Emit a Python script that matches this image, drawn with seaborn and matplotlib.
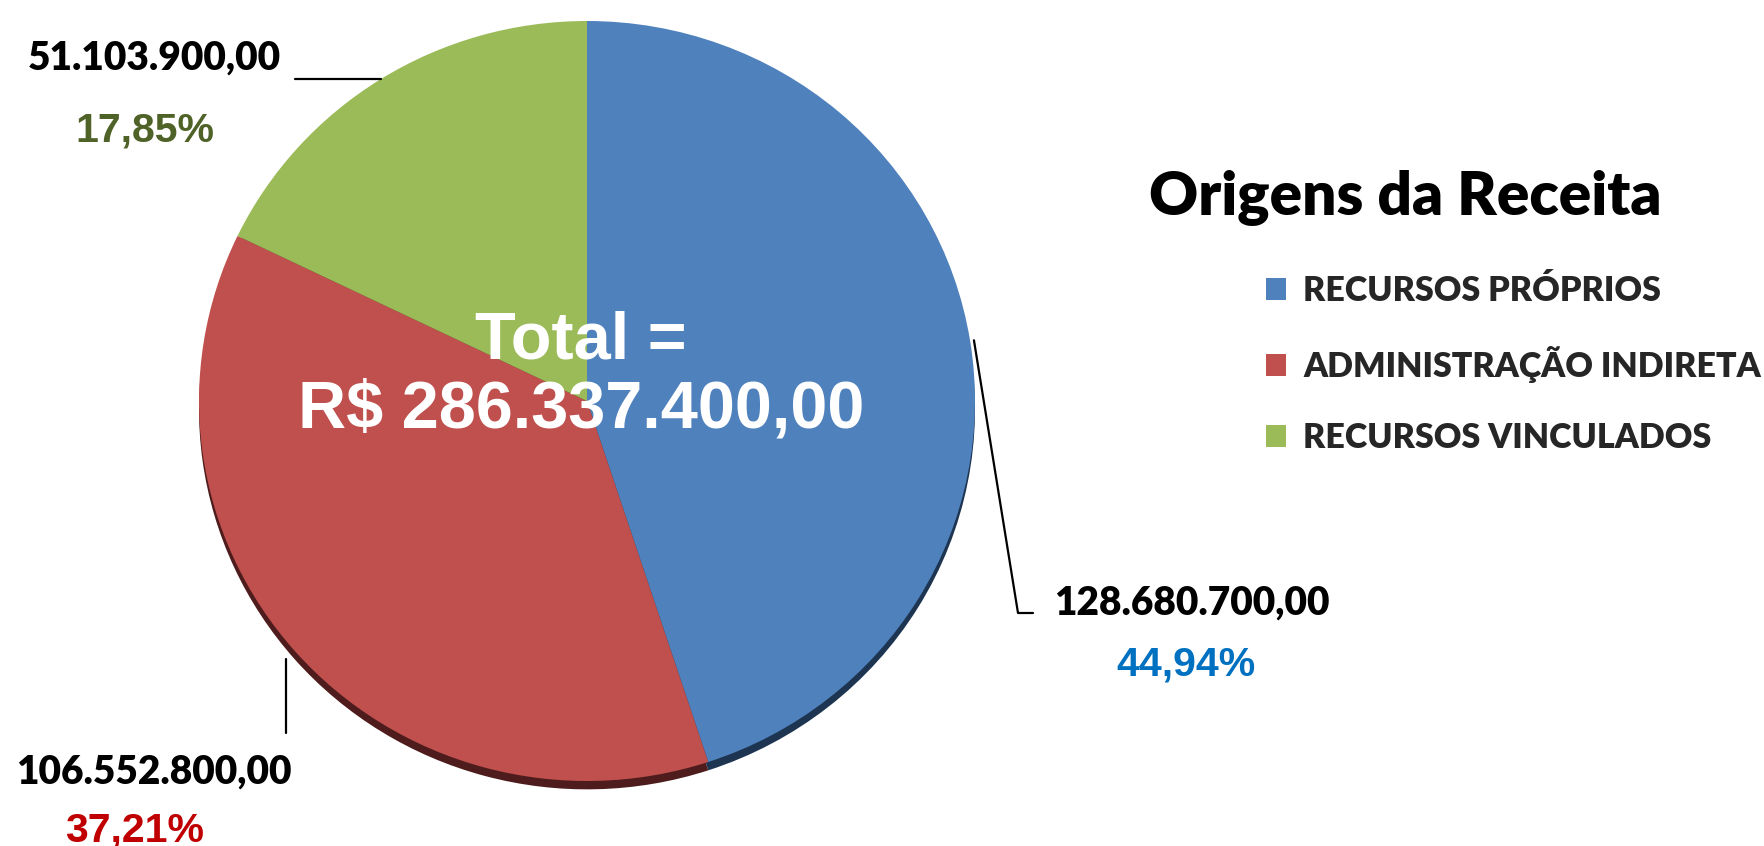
import matplotlib
matplotlib.use("Agg")
import matplotlib.pyplot as plt
import seaborn as sns
import numpy as np

# data
categorias = ["RECURSOS PRÓPRIOS", "ADMINISTRAÇÃO INDIRETA", "RECURSOS VINCULADOS"]
valores = [128680700.00, 106552800.00, 51103900.00]
rotulos_valor = ["128.680.700,00", "106.552.800,00", "51.103.900,00"]
rotulos_pct = ["44,94%", "37,21%", "17,85%"]
total_txt = "Total =\nR$ 286.337.400,00"
titulo = "Origens da Receita"

cores = sns.color_palette(["#4F81BD", "#C0504D", "#9BBB59"])
sombras = ["#1E3552", "#4E1C1C", "#3F4F22"]
cores_pct = ["#0070C0", "#C00000", "#4F6228"]

sns.set_theme(style="white")
plt.rcParams['font.family'] = ['Lato', 'DejaVu Sans']

W, H = 1764, 846
fig = plt.figure(figsize=(W / 100, H / 100), dpi=100)

# pie centre and radii in pixels (slightly wider than tall, like the original)
cx, cy, rx, ry = 587, 401, 388, 380
ax = fig.add_axes([(cx - rx) / W, (H - cy - ry) / H, 2 * rx / W, 2 * ry / H])

def px(x, y):
    # canvas pixel -> pie data coords
    return (x - cx) / rx, (cy - y) / ry

# shadow under the pie
ax.pie(valores, colors=sombras, startangle=90, counterclock=False, radius=1.0,
       center=(0, -0.022), wedgeprops=dict(linewidth=0), frame=True)
wedges, _ = ax.pie(valores, colors=cores, startangle=90, counterclock=False, radius=1.0,
                   wedgeprops=dict(linewidth=0), frame=True)
ax.set_xlim(-1, 1)
ax.set_ylim(-1, 1)
ax.set_aspect("auto")
ax.axis("off")

# middle angle of each wedge
angulos = [np.deg2rad((w.theta1 + w.theta2) / 2) for w in wedges]

def borda(i, rr=1.01):
    return rr * np.cos(angulos[i]), rr * np.sin(angulos[i])

# leader lines
x0, y0 = borda(0)
xe, ye = px(1018, 613)
xf, _ = px(1033, 613)
ax.plot([x0, xe, xf], [y0, ye, ye], color="black", lw=1.6, clip_on=False)

x0, y0 = borda(1, 1.03)
_, ye = px(299, 733)
ax.plot([x0, x0], [y0, ye], color="black", lw=1.6, clip_on=False)

x0, y0 = borda(2, 1.0)
xe, _ = px(295, 74)
ax.plot([x0, xe], [y0, y0], color="black", lw=1.6, clip_on=False)

def ftext(x, y, s, **kw):
    fig.text(x / W, 1 - y / H, s, **kw)

# value labels
pos_valor = [(1054, 603), (16, 772), (28, 58)]
pos_pct = [(1186, 664), (135, 830), (145, 130)]
for i in range(3):
    ftext(*pos_valor[i], rotulos_valor[i], ha="left", va="center",
          fontsize=28, fontweight="heavy", color="black")
    ftext(*pos_pct[i], rotulos_pct[i], ha="center", va="center",
          fontsize=29.5, fontweight="bold", color=cores_pct[i],
          family=["Liberation Sans", "DejaVu Sans"])

# total in the middle
ftext(581, 376, total_txt, ha="center", va="center", fontsize=48,
      fontweight="bold", color="white", linespacing=1.15,
      family=["Liberation Sans", "DejaVu Sans"])

# legend
ftext(1149, 197, titulo, ha="left", va="center", fontsize=43.5,
      fontweight="heavy", color="black")
leg = fig.legend(wedges, categorias, loc="upper left",
                 bbox_to_anchor=(1266 / W, 1 - 275 / H), bbox_transform=fig.transFigure,
                 frameon=False, borderpad=0, borderaxespad=0,
                 handlelength=0.6, handleheight=0.6, handletextpad=0.5,
                 labelspacing=1.15, prop=dict(family="Lato", weight="heavy", size=24.5))

fig.savefig("out.png", dpi=100)
